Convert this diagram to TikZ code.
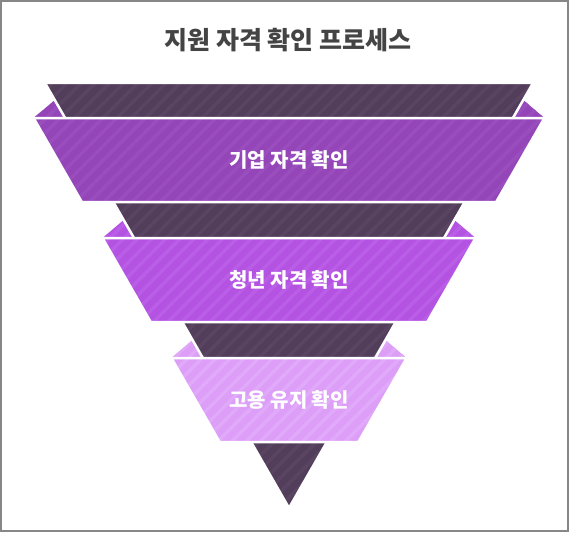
\documentclass[tikz,border=0pt]{standalone}
\usepackage{fontspec}
\usetikzlibrary{patterns.meta, positioning, calc}
\newfontfamily\krfont{Noto Sans CJK KR}
\definecolor{framegray}{HTML}{878787}
\definecolor{titlegray}{HTML}{444444}
\definecolor{funneldark}{HTML}{523E5B}
\definecolor{funnelstripe}{HTML}{594562}
\definecolor{stageone}{HTML}{9446B8}
\definecolor{stageonestripe}{HTML}{9A4EBE}
\definecolor{stagetwo}{HTML}{B453E2}
\definecolor{stagetwostripe}{HTML}{BA5DE7}
\definecolor{stagethree}{HTML}{DC9EF7}
\definecolor{stagethreestripe}{HTML}{E1A9FA}

\begin{document}
\begin{tikzpicture}[
    x=1pt, y=-1pt,
    declare function={hw(\y)=244-0.5741*(\y-83);},
    striped/.style 2 args={preaction={fill=#1}, pattern={Lines[angle=45, distance=10pt, line width=3.5pt]}, pattern color=#2},
    band/.style 2 args={striped={#1}{#2}, draw=white, line width=2.5pt, line join=miter},
    titletext/.style={font=\krfont\bfseries\fontsize{25}{30}\selectfont, text=titlegray},
    stagelabel/.style={font=\krfont\bfseries\fontsize{20}{24}\selectfont, text=white},
  ]
  \useasboundingbox (0,0) rectangle (569,532);
  \draw[framegray, line width=2pt] (1,1) rectangle (568,531);
  \node[titletext] (title) at (288,40) {지원 자격 확인 프로세스};
  % folded ends behind the funnel
  \foreach \yt/\col in {118/stageone, 238/stagetwo, 358/stagethree}{
    \fill[striped={\col}{\col stripe}] ({289-hw(\yt)-31.5},\yt) -- ({289-hw(\yt-18)},\yt-18) -- ({289-hw(\yt)},\yt) -- cycle;
    \fill[striped={\col}{\col stripe}] ({289+hw(\yt)+31.5},\yt) -- ({289+hw(\yt-18)},\yt-18) -- ({289+hw(\yt)},\yt) -- cycle;
  }
  \draw[band={funneldark}{funnelstripe}] ({289-hw(83)},83) -- ({289+hw(83)},83) -- (289,508) -- cycle;
  \foreach \yt/\col/\lbl/\name in {118/stageone/기업 자격 확인/company, 238/stagetwo/청년 자격 확인/youth, 358/stagethree/고용 유지 확인/retention}{
    \draw[band={\col}{\col stripe}] ({289-hw(\yt)-31.5},\yt) -- ({289+hw(\yt)+31.5},\yt) -- ({289+hw(\yt+84)+31.5},\yt+84) -- ({289-hw(\yt+84)-31.5},\yt+84) -- cycle;
    \node[stagelabel] (\name) at (289,\yt+42) {\lbl};
  }
\end{tikzpicture}
\end{document}
